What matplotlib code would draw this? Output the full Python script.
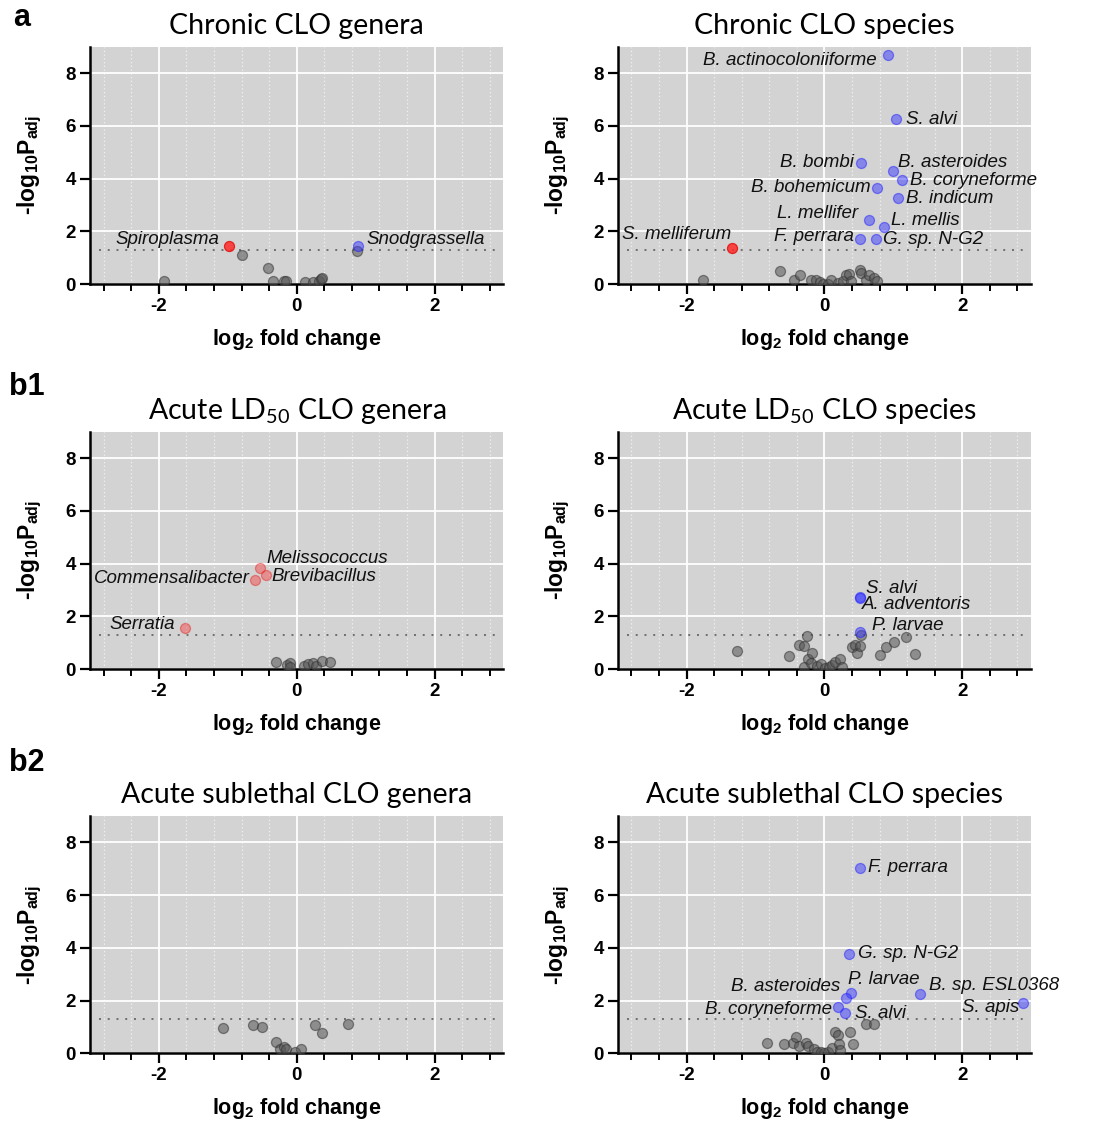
import matplotlib
matplotlib.use('Agg')
import matplotlib.pyplot as plt
import numpy as np

plt.rcParams['font.family'] = 'Liberation Sans'
plt.rcParams['axes.unicode_minus'] = False
plt.rcParams['mathtext.fontset'] = 'custom'
plt.rcParams['mathtext.rm'] = 'Lato'
plt.rcParams['mathtext.bf'] = 'Liberation Sans:bold'
plt.rcParams['mathtext.it'] = 'Liberation Sans:italic'
plt.rcParams['mathtext.default'] = 'bf'

# ---- data (log2 fold change, -log10 padj) ----

# a, chronic genera
chr_gen_grey_x = [-1.93, -0.79, -0.41, -0.34, -0.19, -0.15, 0.12, 0.23, 0.32, 0.35, 0.36, 0.87]
chr_gen_grey_y = [0.13, 1.11, 0.61, 0.10, 0.10, 0.10, 0.06, 0.06, 0.10, 0.19, 0.23, 1.26]
chr_gen_up_names = ['Snodgrassella']
chr_gen_up_x = [0.89]
chr_gen_up_y = [1.43]
chr_gen_down_names = ['Spiroplasma']
chr_gen_down_x = [-0.98]
chr_gen_down_y = [1.43]

# a, chronic species
chr_sp_grey_x = [-1.76, -0.65, -0.44, -0.35, -0.19, -0.12, -0.07, -0.02, 0.05, 0.09, 0.19,
                 0.27, 0.31, 0.35, 0.38, 0.51, 0.53, 0.60, 0.65, 0.72, 0.77]
chr_sp_grey_y = [0.14, 0.48, 0.14, 0.33, 0.14, 0.14, 0.06, 0.01, 0.01, 0.14, 0.04,
                 0.13, 0.35, 0.39, 0.10, 0.54, 0.42, 0.16, 0.35, 0.23, 0.13]
chr_sp_up_names = ['B. actinocoloniiforme', 'S. alvi', 'B. bombi', 'B. asteroides',
                   'B. coryneforme', 'B. bohemicum', 'B. indicum', 'L. mellifer',
                   'L. mellis', 'F. perrara', 'G. sp. N-G2']
chr_sp_up_x = [0.93, 1.04, 0.53, 1.00, 1.13, 0.76, 1.07, 0.65, 0.86, 0.51, 0.75]
chr_sp_up_y = [8.70, 6.26, 4.59, 4.27, 3.94, 3.63, 3.25, 2.43, 2.15, 1.71, 1.71]
chr_sp_down_names = ['S. melliferum']
chr_sp_down_x = [-1.34]
chr_sp_down_y = [1.35]

# b1, acute LD50 genera
ld_gen_grey_x = [-0.30, -0.14, -0.09, -0.09, 0.10, 0.17, 0.24, 0.28, 0.36, 0.48]
ld_gen_grey_y = [0.28, 0.15, 0.21, 0.06, 0.13, 0.19, 0.21, 0.11, 0.31, 0.28]
ld_gen_up_names = []
ld_gen_up_x = []
ld_gen_up_y = []
ld_gen_down_names = ['Melissococcus', 'Brevibacillus', 'Commensalibacter', 'Serratia']
ld_gen_down_x = [-0.53, -0.45, -0.61, -1.62]
ld_gen_down_y = [3.84, 3.58, 3.39, 1.57]

# b1, acute LD50 species
ld_sp_grey_x = [-1.27, -0.51, -0.37, -0.29, -0.25, -0.24, -0.18, -0.29, -0.20, -0.11,
                -0.05, 0.01, 0.06, 0.11, 0.15, 0.22, 0.26, 0.40, 0.44, 0.47, 0.52,
                0.53, 0.81, 0.90, 1.01, 1.19, 1.32]
ld_sp_grey_y = [0.68, 0.50, 0.91, 0.87, 1.26, 0.37, 0.59, 0.06, 0.21, 0.11,
                0.19, 0.05, 0.09, 0.15, 0.28, 0.39, 0.06, 0.82, 0.91, 0.59, 0.89,
                1.28, 0.55, 0.82, 1.03, 1.20, 0.57]
ld_sp_up_names = ['S. alvi', 'A. adventoris', 'P. larvae']
ld_sp_up_x = [0.52, 0.52, 0.51]
ld_sp_up_y = [2.73, 2.70, 1.41]
ld_sp_down_names = []
ld_sp_down_x = []
ld_sp_down_y = []

# b2, acute sublethal genera
sub_gen_grey_x = [-1.07, -0.64, -0.50, -0.30, -0.24, -0.18, -0.15, -0.02, 0.06, 0.27, 0.37, 0.74]
sub_gen_grey_y = [0.95, 1.07, 0.99, 0.42, 0.15, 0.25, 0.15, 0.04, 0.15, 1.07, 0.78, 1.11]
sub_gen_up_names = []
sub_gen_up_x = []
sub_gen_up_y = []
sub_gen_down_names = []
sub_gen_down_x = []
sub_gen_down_y = []

# b2, acute sublethal species
sub_sp_grey_x = [-0.83, -0.58, -0.46, -0.41, -0.37, -0.26, -0.24, -0.15, -0.11, -0.05,
                 0.00, 0.05, 0.11, 0.15, 0.19, 0.21, 0.23, 0.37, 0.42, 0.60, 0.72]
sub_sp_grey_y = [0.40, 0.35, 0.38, 0.60, 0.28, 0.38, 0.28, 0.16, 0.06, 0.06,
                 0.00, 0.06, 0.19, 0.82, 0.69, 0.35, 0.13, 0.82, 0.35, 1.10, 1.10]
sub_sp_up_names = ['F. perrara', 'G. sp. N-G2', 'P. larvae', 'B. asteroides',
                   'B. coryneforme', 'S. alvi', 'B. sp. ESL0368', 'S. apis']
sub_sp_up_x = [0.51, 0.35, 0.39, 0.31, 0.19, 0.30, 1.38, 2.88]
sub_sp_up_y = [7.03, 3.78, 2.29, 2.08, 1.76, 1.51, 2.25, 1.89]
sub_sp_down_names = []
sub_sp_down_x = []
sub_sp_down_y = []

# label placement: name -> (dx px, dy px, ha)
offsets = {
    'a_gen': {'Spiroplasma': (-10, 7, 'right'), 'Snodgrassella': (8, 7, 'left')},
    'a_sp': {'B. actinocoloniiforme': (-12, -6, 'right'), 'S. alvi': (10, -1, 'left'),
             'B. bombi': (-7, 1, 'right'), 'B. asteroides': (5, 9, 'left'),
             'B. coryneforme': (8, 0, 'left'), 'B. bohemicum': (-6, 1, 'right'),
             'B. indicum': (8, 0, 'left'), 'L. mellifer': (-11, 6, 'right'),
             'L. mellis': (7, 7, 'left'), 'F. perrara': (-6, 2, 'right'),
             'G. sp. N-G2': (7, -1, 'left'), 'S. melliferum': (-1, 14, 'right')},
    'b1_gen': {'Melissococcus': (6, 9, 'left'), 'Brevibacillus': (6, -2, 'left'),
               'Commensalibacter': (-5, 1, 'right'), 'Serratia': (-10, 3, 'right')},
    'b1_sp': {'S. alvi': (6, 9, 'left'), 'A. adventoris': (2, -7, 'left'),
              'P. larvae': (12, 6, 'left')},
    'b2_gen': {},
    'b2_sp': {'F. perrara': (8, 0, 'left'), 'G. sp. N-G2': (9, 0, 'left'),
              'P. larvae': (-3, 13, 'left'), 'B. asteroides': (-6, 12, 'right'),
              'B. coryneforme': (-6, -3, 'right'), 'S. alvi': (10, 0, 'left'),
              'B. sp. ESL0368': (9, 8, 'left'), 'S. apis': (-4, -4, 'right')},
}

GREY = '#555555'
BLUE = '#3a3aff'
RED = '#ff2a2a'


def draw_panel(ax, key, title, grey_x, grey_y, up, down, red_alpha=0.85):
    ax.set_facecolor('#d3d3d3')
    for s in ['top', 'right']:
        ax.spines[s].set_visible(False)
    for s in ['left', 'bottom']:
        ax.spines[s].set_linewidth(1.8)
    ax.set_xlim(-3, 3)
    ax.set_ylim(0, 9)
    ax.set_xticks([-2, 0, 2])
    ax.set_xticks(np.arange(-2.8, 2.81, 0.4), minor=True)
    ax.set_yticks([0, 2, 4, 6, 8])
    ax.tick_params(axis='both', which='major', direction='out', length=7, width=1.6,
                   labelsize=13.5, pad=3)
    ax.tick_params(axis='x', which='minor', direction='out', length=5, width=1.4)
    for lab in ax.get_xticklabels() + ax.get_yticklabels():
        lab.set_fontweight('bold')
    ax.grid(True, which='major', color='white', lw=1.3)
    ax.grid(True, which='minor', axis='x', color='white', lw=0.9, ls=(0, (1, 2)), alpha=0.7)
    ax.set_axisbelow(True)

    ax.hlines(1.3, -2.87, 2.93, colors='#6e6e6e', linestyles=(0, (1, 3.5)), lw=1.4, zorder=2)

    ax.scatter(grey_x, grey_y, s=52, color=GREY, alpha=0.55, edgecolors='#333333',
               linewidths=0.9, zorder=3)
    names, ux, uy = up
    ax.scatter(ux, uy, s=52, color=BLUE, alpha=0.5, edgecolors='#2020ff',
               linewidths=0.9, zorder=4)
    dnames, dx_, dy_ = down
    ax.scatter(dx_, dy_, s=52, color=RED, alpha=red_alpha, edgecolors='#e01010',
               linewidths=0.9, zorder=4)

    for n, x, y in list(zip(names, ux, uy)) + list(zip(dnames, dx_, dy_)):
        ox, oy, ha = offsets[key][n]
        ax.annotate(n, (x, y), xytext=(ox, oy), textcoords='offset pixels',
                    ha=ha, va='center', fontsize=13.5, style='italic',
                    color='#111111', zorder=5)

    ax.set_title(title, fontsize=20.5, family='Lato', pad=9)
    ax.set_xlabel('log$_2$ fold change', fontsize=15.5, fontweight='bold')
    ax.set_ylabel('-log$_{10}$P$_{adj}$', fontsize=16.5, fontweight='bold')
    ax.xaxis.set_label_coords(0.5, -0.18)
    ax.yaxis.set_label_coords(-0.11, 0.5)


fig = plt.figure(figsize=(11.04, 11.21), dpi=100)

rows = [0.7466, 0.4032, 0.0604]
h = 0.2117
lefts = [0.0815, 0.5595]
w = 0.3745

panels = [
    ('a_gen', 'Chronic CLO genera', chr_gen_grey_x, chr_gen_grey_y,
     (chr_gen_up_names, chr_gen_up_x, chr_gen_up_y),
     (chr_gen_down_names, chr_gen_down_x, chr_gen_down_y), 0.85),
    ('a_sp', 'Chronic CLO species', chr_sp_grey_x, chr_sp_grey_y,
     (chr_sp_up_names, chr_sp_up_x, chr_sp_up_y),
     (chr_sp_down_names, chr_sp_down_x, chr_sp_down_y), 0.85),
    ('b1_gen', r'Acute LD$_{\mathrm{50}}$ CLO genera', ld_gen_grey_x, ld_gen_grey_y,
     (ld_gen_up_names, ld_gen_up_x, ld_gen_up_y),
     (ld_gen_down_names, ld_gen_down_x, ld_gen_down_y), 0.4),
    ('b1_sp', r'Acute LD$_{\mathrm{50}}$ CLO species', ld_sp_grey_x, ld_sp_grey_y,
     (ld_sp_up_names, ld_sp_up_x, ld_sp_up_y),
     (ld_sp_down_names, ld_sp_down_x, ld_sp_down_y), 0.85),
    ('b2_gen', 'Acute sublethal CLO genera', sub_gen_grey_x, sub_gen_grey_y,
     (sub_gen_up_names, sub_gen_up_x, sub_gen_up_y),
     (sub_gen_down_names, sub_gen_down_x, sub_gen_down_y), 0.85),
    ('b2_sp', 'Acute sublethal CLO species', sub_sp_grey_x, sub_sp_grey_y,
     (sub_sp_up_names, sub_sp_up_x, sub_sp_up_y),
     (sub_sp_down_names, sub_sp_down_x, sub_sp_down_y), 0.85),
]

for i, p in enumerate(panels):
    r, c = divmod(i, 2)
    ax = fig.add_axes([lefts[c], rows[r], w, h])
    draw_panel(ax, *p)

fig.text(0.012, 0.984, 'a', fontsize=22, fontweight='bold', va='center')
fig.text(0.008, 0.655, 'b1', fontsize=22, fontweight='bold', va='center')
fig.text(0.008, 0.319, 'b2', fontsize=22, fontweight='bold', va='center')

fig.savefig('out.png', dpi=100)
